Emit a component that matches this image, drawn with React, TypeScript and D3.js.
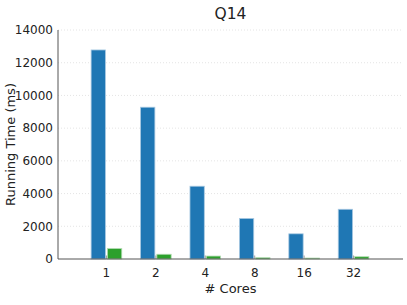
import React from "react";
import * as d3 from "d3";

const cores = ["1", "2", "4", "8", "16", "32"];
const seriesA = [12780, 9280, 4450, 2480, 1540, 3040];
const seriesB = [640, 290, 180, 80, 60, 140];
const yTicks = [0, 2000, 4000, 6000, 8000, 10000, 12000, 14000];

const W = 407;
const H = 305;
const left = 58;
const right = 403;
const top = 30;
const bottom = 259;

const App = () => {
    const x = d3.scaleLinear().domain([-0.98, 6]).range([left, right]);
    const y = d3.scaleLinear().domain([0, 14000]).range([bottom, top]);
    const unit = x(1) - x(0);
    const barW = unit * 0.29;
    const off = unit * 0.165;
    const font = "DejaVu Sans, sans-serif";

    return (
        <svg width={W} height={H} style={{position: "absolute", left: 0, top: 0}}>
            <rect width={W} height={H} fill="#fff" />
            {/* grid */}
            {yTicks.slice(1).map(t => (
                <line key={"g" + t} x1={left} x2={right} y1={y(t)} y2={y(t)}
                      stroke="#ddd" strokeWidth={0.8} strokeDasharray="1,2" />
            ))}
            {/* bars */}
            {seriesA.map((v, i) => (
                <rect key={"a" + i} x={x(i) - off - barW / 2} y={y(v)} width={barW} height={y(0) - y(v)}
                      fill="#1f77b4" stroke="#a9c9e2" strokeWidth={0.8} />
            ))}
            {seriesB.map((v, i) => (
                <rect key={"b" + i} x={x(i) + off - barW / 2} y={y(v)} width={barW} height={y(0) - y(v)}
                      fill="#2ca02c" stroke="#b4dcb4" strokeWidth={0.8} />
            ))}
            {/* x ticks inward */}
            {cores.map((c, i) => (
                <g key={"x" + c}>
                    <line x1={x(i)} x2={x(i)} y1={bottom} y2={bottom - 3.5} stroke="#888" strokeWidth={0.8} />
                    <text x={x(i)} y={277} textAnchor="middle" fontFamily={font} fontSize={12} fill="#222">{c}</text>
                </g>
            ))}
            {yTicks.map(t => (
                <text key={"y" + t} x={53} y={y(t) + 4.3} textAnchor="end" fontFamily={font} fontSize={12} fill="#222">{t}</text>
            ))}
            {/* spines */}
            <line x1={left} x2={left} y1={top} y2={bottom} stroke="#555" strokeWidth={1} />
            <line x1={left} x2={right} y1={bottom} y2={bottom} stroke="#555" strokeWidth={1} />
            <text x={(left + right) / 2} y={19} textAnchor="middle" fontFamily={font} fontSize={15.5} fill="#222">Q14</text>
            <text x={(left + right) / 2} y={293} textAnchor="middle" fontFamily={font} fontSize={13} fill="#222"># Cores</text>
            <text transform={`translate(14.5,${(top + bottom) / 2}) rotate(-90)`} textAnchor="middle" fontFamily={font} fontSize={13} fill="#222">Running Time (ms)</text>
        </svg>
    );
};

export default App;
